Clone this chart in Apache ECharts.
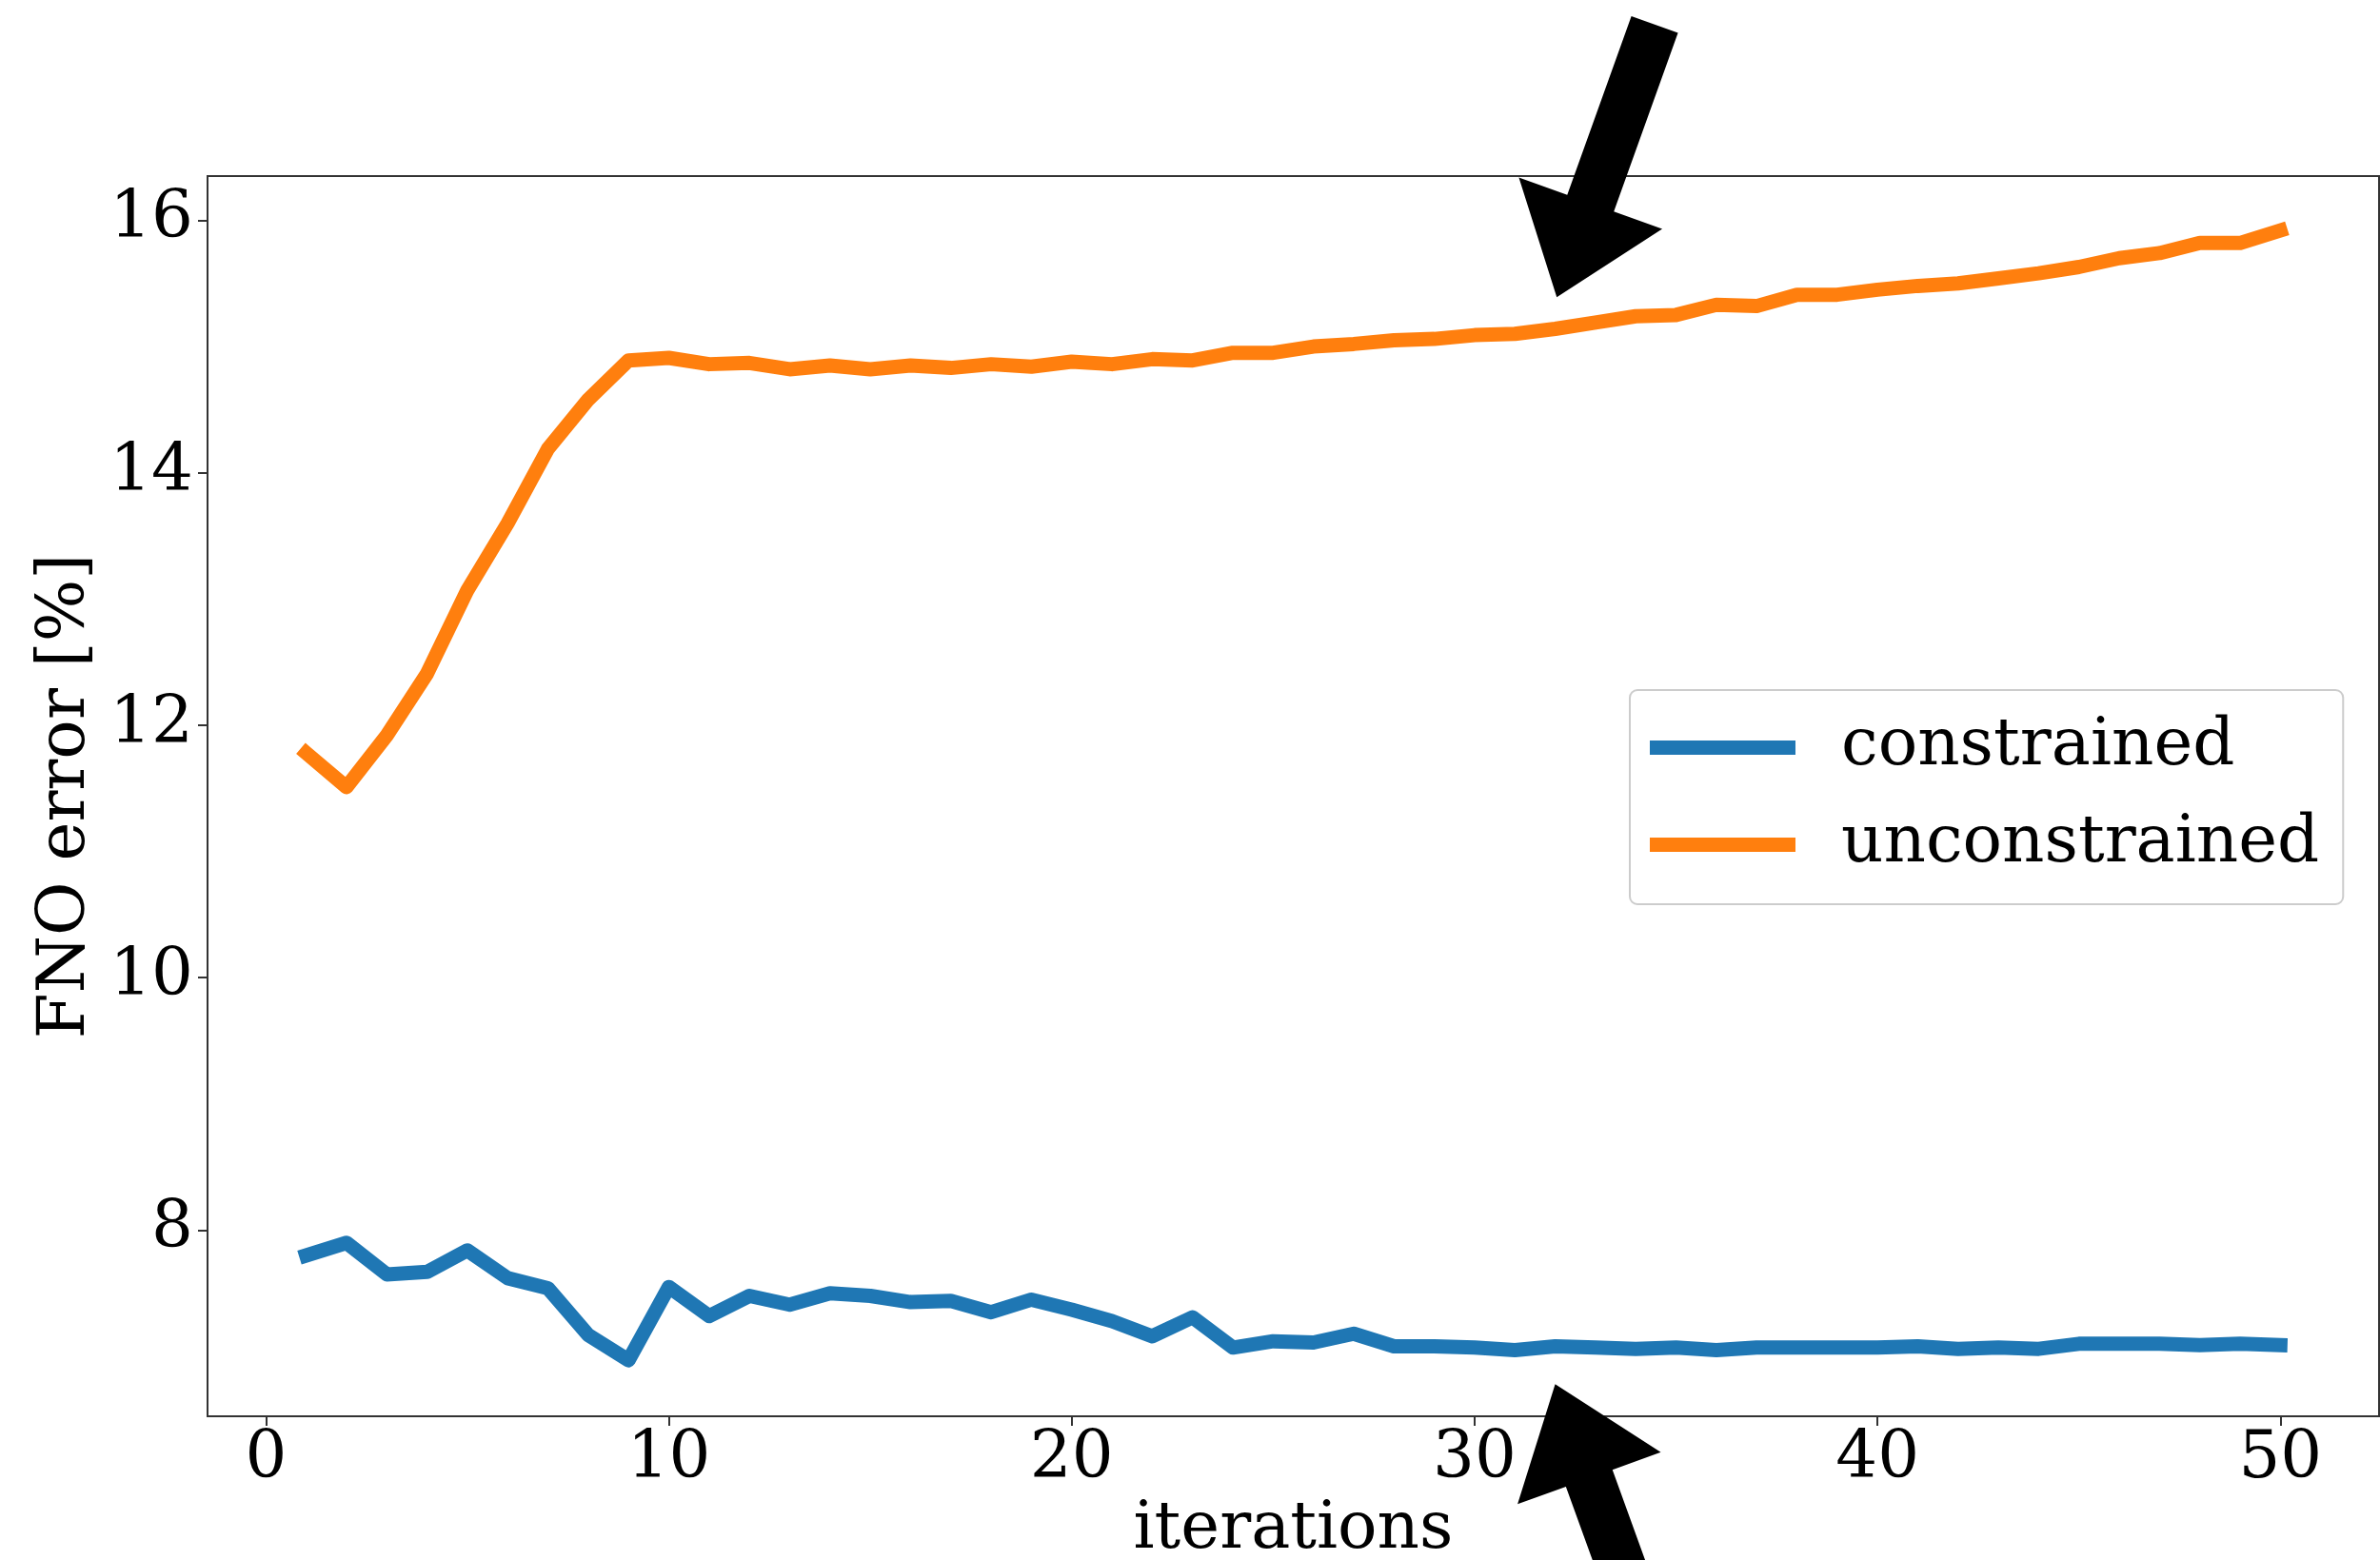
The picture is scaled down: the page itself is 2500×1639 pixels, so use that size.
<!DOCTYPE html>
<html><head><meta charset="utf-8">
<script src="https://cdn.jsdelivr.net/npm/echarts@6/dist/echarts.min.js"></script>
<style>html,body{margin:0;padding:0;background:#fff}#c{width:2500px;height:1639px}</style>
</head><body><div id="c"></div>
<script>
const iterations = Array.from({length: 50}, (_, i) => i + 1);
const constrained = [7.80, 7.90, 7.65, 7.67, 7.84, 7.62, 7.54, 7.17, 6.97, 7.55,
  7.32, 7.48, 7.41, 7.50, 7.48, 7.43, 7.44, 7.35, 7.45, 7.37,
  7.28, 7.16, 7.31, 7.07, 7.12, 7.11, 7.18, 7.08, 7.08, 7.07,
  7.05, 7.08, 7.07, 7.06, 7.07, 7.05, 7.07, 7.07, 7.07, 7.07,
  7.08, 7.06, 7.07, 7.06, 7.10, 7.10, 7.10, 7.09, 7.10, 7.09];
const unconstrained = [11.78, 11.51, 11.92, 12.41, 13.07, 13.60, 14.19, 14.58, 14.89, 14.91,
  14.86, 14.87, 14.82, 14.85, 14.82, 14.85, 14.83, 14.86, 14.84, 14.88,
  14.86, 14.90, 14.89, 14.95, 14.95, 15.00, 15.02, 15.05, 15.06, 15.09,
  15.10, 15.14, 15.19, 15.24, 15.25, 15.33, 15.32, 15.41, 15.41, 15.45,
  15.48, 15.50, 15.54, 15.58, 15.63, 15.70, 15.74, 15.82, 15.82, 15.92];
const xTicks = [0, 10, 20, 30, 40, 50];
const yTicks = [8, 10, 12, 14, 16];
const seriesNames = ['constrained', 'unconstrained'];
const arrowTips = [[32.04, 15.39], [32.0, 6.78]];
const arrowTails = [[34.47, 17.55], [34.45, 4.62]];

const FONT = 'DejaVu Serif';
const chart = echarts.init(document.getElementById('c'), null, {renderer: 'canvas'});
const toPairs = arr => iterations.map((x, i) => [x, arr[i]]);

chart.setOption({
  animation: false,
  backgroundColor: '#fff',
  grid: {left: 218, top: 185, width: 2281, height: 1303, show: true, containLabel: false,
    outerBoundsMode: 'none',
    borderColor: '#333', borderWidth: 2, backgroundColor: 'transparent'},
  xAxis: {
    type: 'value', min: -1.45, max: 52.45,
    name: 'iterations', nameLocation: 'middle', nameGap: 80,
    nameTextStyle: {fontFamily: FONT, fontSize: 69, color: '#000'},
    axisLine: {show: true, onZero: false, lineStyle: {color: '#333', width: 2}},
    axisTick: {show: true, inside: false, length: 10, customValues: xTicks, lineStyle: {color: '#333', width: 2}},
    axisLabel: {customValues: xTicks, fontFamily: FONT, fontSize: 69, color: '#000', margin: 12},
    splitLine: {show: false}
  },
  yAxis: {
    type: 'value', min: 6.526, max: 16.35,
    name: 'FNO error [%]', nameLocation: 'middle', nameGap: 109,
    nameTextStyle: {fontFamily: FONT, fontSize: 69, color: '#000'},
    axisLine: {show: true, onZero: false, lineStyle: {color: '#333', width: 2}},
    axisTick: {show: true, inside: false, length: 10, customValues: yTicks, lineStyle: {color: '#333', width: 2}},
    axisLabel: {customValues: yTicks, fontFamily: FONT, fontSize: 69, color: '#000', margin: 15},
    splitLine: {show: false}
  },
  legend: {
    data: seriesNames, orient: 'vertical', left: 1712, top: 725,
    padding: [26, 25, 28, 21], itemGap: 33, itemWidth: 153, itemHeight: 15, icon: 'rect',
    textStyle: {fontFamily: FONT, fontSize: 69, color: '#000', padding: [0, 0, 0, 43]},
    borderColor: '#ccc', borderWidth: 2, borderRadius: 8, backgroundColor: 'rgba(255,255,255,0.8)'
  },
  series: [
    {name: seriesNames[0], type: 'line', data: toPairs(constrained), showSymbol: false,
      color: '#1f77b4', lineStyle: {width: 15, color: '#1f77b4', cap: 'square', join: 'round'}},
    {name: seriesNames[1], type: 'line', data: toPairs(unconstrained), showSymbol: false,
      color: '#ff7f0e', lineStyle: {width: 15, color: '#ff7f0e', cap: 'square', join: 'round'}},
    {
      type: 'custom', coordinateSystem: 'cartesian2d', clip: false, silent: true, z: 10,
      data: arrowTips.map((t, i) => [t[0], t[1], arrowTails[i][0], arrowTails[i][1]]),
      encode: {x: [0, 2], y: [1, 3]},
      renderItem: (params, api) => {
        const tip = api.coord([api.value(0), api.value(1)]);
        const tail = api.coord([api.value(2), api.value(3)]);
        const dx = tail[0] - tip[0], dy = tail[1] - tip[1];
        const L = Math.hypot(dx, dy);
        const ux = dx / L, uy = dy / L, px = -uy, py = ux;
        const HL = 105, HW = 80, SW = 26;
        const b = [tip[0] + ux * HL, tip[1] + uy * HL];
        const pts = [tip,
          [b[0] + px * HW, b[1] + py * HW],
          [b[0] + px * SW, b[1] + py * SW],
          [tail[0] + px * SW, tail[1] + py * SW],
          [tail[0] - px * SW, tail[1] - py * SW],
          [b[0] - px * SW, b[1] - py * SW],
          [b[0] - px * HW, b[1] - py * HW]];
        return {type: 'polygon', shape: {points: pts}, style: {fill: '#000'}};
      }
    }
  ]
});
</script>
</body></html>
